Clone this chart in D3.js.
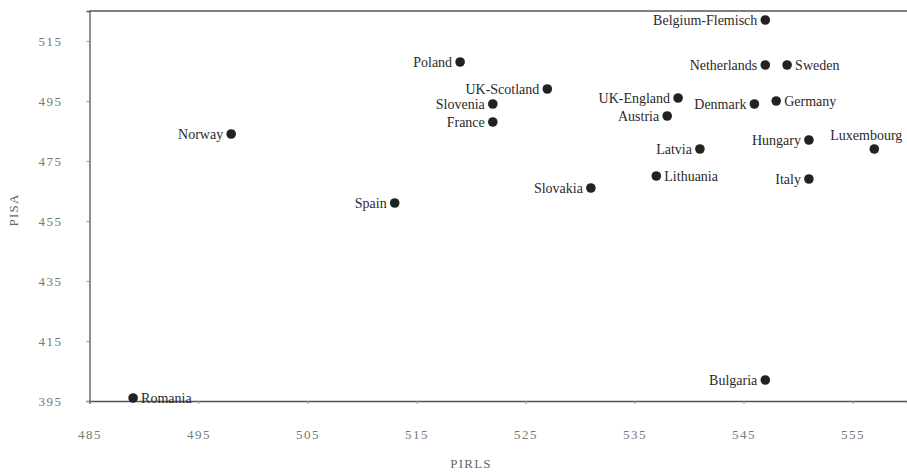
<!DOCTYPE html>
<html>
<head>
<meta charset="utf-8">
<script src="https://cdn.jsdelivr.net/npm/d3@7"></script>
<style>
  html, body { margin: 0; padding: 0; background: #fff; }
  svg { display: block; }
</style>
</head>
<body>
<svg id="chart" width="907" height="473"></svg>
<script>
// Reading scores by country: PIRLS (x) against PISA (y)
const countries = ["Belgium-Flemisch", "Netherlands", "Sweden", "Poland", "UK-Scotland",
  "Slovenia", "France", "Norway", "UK-England", "Austria", "Denmark", "Germany",
  "Hungary", "Luxembourg", "Latvia", "Lithuania", "Italy", "Slovakia", "Spain",
  "Bulgaria", "Romania"];
const pirls = [547, 547, 549, 519, 527, 522, 522, 498, 539, 538, 546, 548,
  551, 557, 541, 537, 551, 531, 513, 547, 489];
const pisa = [522, 507, 507, 508, 499, 494, 488, 484, 496, 490, 494, 495,
  482, 479, 479, 470, 469, 466, 461, 402, 396];
// where each label sits relative to its dot
const labelSide = ["left", "left", "right", "left", "left", "left", "left", "left",
  "left", "left", "left", "right", "left", "above", "left", "right", "left", "left",
  "left", "left", "right"];

const xTicks = [485, 495, 505, 515, 525, 535, 545, 555];
const yTicks = [395, 415, 435, 455, 475, 495, 515];

const FONT = "'Liberation Serif', 'DejaVu Serif', serif";
const svg = d3.select("#chart").attr("font-family", FONT);
const W = 907, H = 473;

const x = d3.scaleLinear().domain([485, 560]).range([89.5, W]);
const y = d3.scaleLinear().domain([395, 525]).range([401, 11]);

const axisColor = "#555";

// x axis
const gx = svg.append("g")
  .attr("transform", `translate(0,${y(395)})`)
  .call(d3.axisBottom(x).tickValues(xTicks).tickSize(3).tickPadding(26).tickFormat(d3.format("d")));
gx.attr("font-family", FONT);
gx.select(".domain").attr("stroke", axisColor).attr("stroke-width", 1.3);
gx.selectAll(".tick line").attr("stroke", "#999");
gx.selectAll(".tick text").attr("fill", "#777").attr("font-size", 13)
  .attr("letter-spacing", 1.5);

// y axis
const gy = svg.append("g")
  .attr("transform", `translate(${x(485)},0)`)
  .call(d3.axisLeft(y).tickValues(yTicks).tickSize(3).tickPadding(24).tickFormat(d3.format("d")));
gy.attr("font-family", FONT);
gy.select(".domain").attr("stroke", axisColor).attr("stroke-width", 1.3);
gy.selectAll(".tick line").attr("stroke", "#999");
gy.selectAll(".tick text").attr("fill", "#777").attr("font-size", 13)
  .attr("letter-spacing", 1.5);

// top frame line
svg.append("line")
  .attr("x1", x(485)).attr("x2", W)
  .attr("y1", y(525)).attr("y2", y(525))
  .attr("stroke", axisColor).attr("stroke-width", 1.3);

// axis titles
svg.append("text")
  .attr("x", 471).attr("y", 468)
  .attr("text-anchor", "middle")
  .attr("fill", "#666").attr("font-size", 13)
  .attr("letter-spacing", 1.2)
  .text("PIRLS");
svg.append("text")
  .attr("transform", `translate(18,210) rotate(-90)`)
  .attr("text-anchor", "middle")
  .attr("fill", "#666").attr("font-size", 13)
  .attr("letter-spacing", 1.2)
  .text("PISA");

// points
const data = countries.map((c, i) => ({ name: c, px: pirls[i], py: pisa[i], side: labelSide[i] }));

const g = svg.append("g").attr("font-family", FONT);
g.selectAll("circle").data(data).join("circle")
  .attr("cx", d => x(d.px))
  .attr("cy", d => y(d.py))
  .attr("r", 4.8)
  .attr("fill", "#222");

g.selectAll("text.lbl").data(data).join("text")
  .attr("class", "lbl")
  .attr("x", d => d.side === "right" ? x(d.px) + 8 : x(d.px) - 8)
  .attr("y", d => d.side === "above" ? y(d.py) - 9 : y(d.py) + 4.5)
  .attr("text-anchor", d => d.side === "left" ? "end" : d.side === "right" ? "start" : "middle")
  .attr("fill", "#2a2a2a")
  .attr("font-size", 14)
  .text(d => d.name);
</script>
</body>
</html>
